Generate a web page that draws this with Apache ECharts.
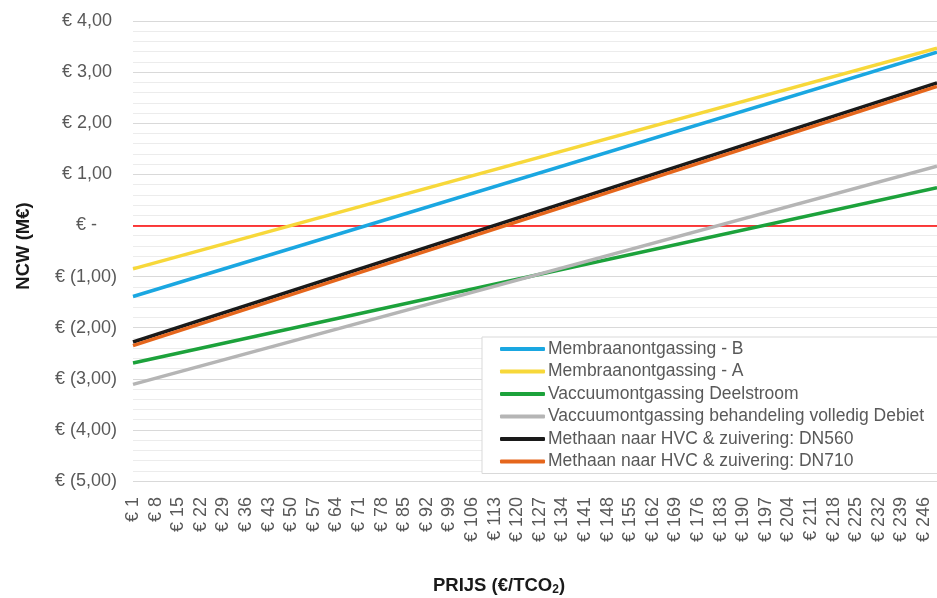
<!DOCTYPE html>
<html>
<head>
<meta charset="utf-8">
<script src="https://cdn.jsdelivr.net/npm/echarts@6/dist/echarts.min.js"></script>
<style>
html,body{margin:0;padding:0;background:#fff;}
#c{width:937px;height:598px;}
</style>
</head>
<body>
<div id="c"></div>
<script>
// Categories: CO2 price (€/tCO2), 1..250
const prices = Array.from({length: 250}, (_, i) => i + 1);
const categories = prices.map(p => '€ ' + p);

// Series values read at the first and last price (lines are straight)
const samplePrices = [1, 250];
const membraanB = [-1.39, 3.39];
const membraanA = [-0.85, 3.47];
const vacuumDeelstroom = [-2.69, 0.74];
const vacuumVolledig = [-3.11, 1.16];
const hvcDN560 = [-2.28, 2.79];
const hvcDN710 = [-2.35, 2.72];

const seriesNames = [
  'Membraanontgassing - B',
  'Membraanontgassing - A',
  'Vaccuumontgassing Deelstroom',
  'Vaccuumontgassing behandeling volledig Debiet',
  'Methaan naar HVC & zuivering: DN560',
  'Methaan naar HVC & zuivering: DN710'
];
const seriesValues = [membraanB, membraanA, vacuumDeelstroom, vacuumVolledig, hvcDN560, hvcDN710];
const seriesColors = ['#1AA7E1', '#F7D83A', '#1CA23B', '#B5B5B5', '#1A1A1A', '#E5661C'];

const yTicks = {min: -5, max: 4, interval: 1};

function fmtEuro(v) {
  if (Math.abs(v) < 1e-9) return '€ -    ';
  const s = Math.abs(v).toFixed(2).replace('.', ',');
  return v > 0 ? '€ ' + s + ' ' : '€ (' + s + ')';
}

const FONT = '"Liberation Sans", Arial, sans-serif';

const series = seriesNames.map((name, k) => ({
  name: name,
  type: 'line',
  symbol: 'none',
  smooth: false,
  data: samplePrices.map((p, i) => ['€ ' + p, seriesValues[k][i]]),
  lineStyle: {color: seriesColors[k], width: 3.5},
  itemStyle: {color: seriesColors[k]},
  z: 3,
  markLine: k === 0 ? {
    silent: true,
    symbol: 'none',
    label: {show: false},
    lineStyle: {color: '#FF0000', width: 1.5, type: 'solid'},
    data: [{yAxis: 0}],
    z: 1
  } : undefined
}));

const chart = echarts.init(document.getElementById('c'), null, {renderer: 'canvas'});
chart.setOption({
  animation: false,
  backgroundColor: '#ffffff',
  grid: {left: 133, right: 0, top: 21, bottom: 117, containLabel: false, outerBoundsMode: 'none'},
  legend: {
    data: seriesNames,
    orient: 'vertical',
    left: 482,
    top: 337,
    backgroundColor: '#ffffff',
    borderColor: '#D9D9D9',
    borderWidth: 1,
    padding: [3, 20, 3, 18],
    itemGap: 4.5,
    itemWidth: 45,
    itemHeight: 4,
    icon: 'roundRect',
    textStyle: {fontFamily: FONT, fontSize: 17.5, color: '#595959', padding: [0, 0, 0, -2]}
  },
  xAxis: {
    type: 'category',
    data: categories,
    boundaryGap: false,
    axisLine: {show: false, onZero: false},
    axisTick: {show: false},
    splitLine: {show: false},
    axisLabel: {
      interval: 6,
      rotate: 90,
      margin: 16,
      fontFamily: FONT,
      fontSize: 18,
      color: '#595959'
    },
    name: '{b|PRIJS (€/TCO}{s|2}{b|)}',
    nameLocation: 'middle',
    nameGap: 95,
    nameTextStyle: {
      padding: [0, 72, 0, 0],
      rich: {
        b: {fontFamily: FONT, fontSize: 18.5, fontWeight: 'bold', color: '#1a1a1a'},
        s: {fontFamily: FONT, fontSize: 12, fontWeight: 'bold', color: '#1a1a1a', verticalAlign: 'bottom', padding: [8, 0, 0, 0]}
      }
    }
  },
  yAxis: {
    type: 'value',
    min: yTicks.min,
    max: yTicks.max,
    interval: yTicks.interval,
    axisLine: {show: false},
    axisTick: {show: false},
    axisLabel: {
      formatter: fmtEuro,
      margin: 16,
      fontFamily: FONT,
      fontSize: 18,
      color: '#595959'
    },
    splitLine: {show: true, lineStyle: {color: '#D9D9D9', width: 1}},
    minorTick: {show: false, splitNumber: 5},
    minorSplitLine: {show: true, lineStyle: {color: '#ECECEC', width: 1}},
    name: 'NCW (M€)',
    nameLocation: 'middle',
    nameGap: 100,
    nameTextStyle: {fontFamily: FONT, fontSize: 18.5, fontWeight: 'bold', color: '#1a1a1a', padding: [0, 0, 0, 10]}
  },
  series: series
});
</script>
</body>
</html>
